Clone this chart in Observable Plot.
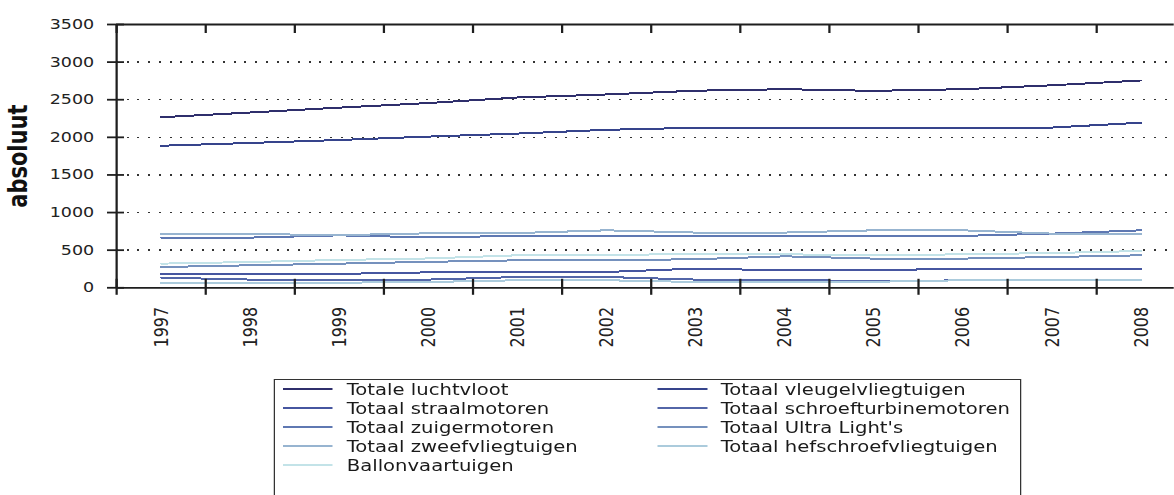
<!DOCTYPE html>
<html>
<head>
<meta charset="utf-8">
<script src="https://cdn.jsdelivr.net/npm/d3@7"></script>
<script src="https://cdn.jsdelivr.net/npm/@observablehq/plot@0.6"></script>
<style>
  html, body { margin: 0; padding: 0; background: #fff; overflow: hidden; }
  #wrap {
    position: absolute; left: 0; top: 0; width: 939.2px; height: 495px;
    transform: scaleX(1.25); transform-origin: 0 0;
    font-family: "DejaVu Sans", Verdana, sans-serif; color: #111;
  }
  #chart { position: absolute; left: 0; top: 0; }
  #legend {
    position: absolute; left: 219.2px; top: 379px; width: 598px; height: 130px;
    border: 1px solid #333; box-sizing: border-box; background: #fff;
  }
  .item { position: absolute; height: 19px; line-height: 19px; font-size: 15.7px; white-space: nowrap; color: #1a1a1a; }
  .swatch { position: absolute; top: 8.5px; height: 2px; width: 40px; }
  .lbl { position: absolute; top: 0; }
</style>
</head>
<body>
<div id="wrap"><div id="chart"></div><div id="legend"></div></div>
<script>
// ---- data ----
const years = [1997, 1998, 1999, 2000, 2001, 2002, 2003, 2004, 2005, 2006, 2007, 2008];

const seriesNames = [
  "Totale luchtvloot",
  "Totaal vleugelvliegtuigen",
  "Totaal straalmotoren",
  "Totaal schroefturbinemotoren",
  "Totaal zuigermotoren",
  "Totaal Ultra Light's",
  "Totaal zweefvliegtuigen",
  "Totaal hefschroefvliegtuigen",
  "Ballonvaartuigen"
];

const seriesColors = [
  "#2f2f6c", "#36448c", "#4656a0", "#5366a8", "#5f78b2",
  "#7591bd", "#97b4d0", "#abcbdc", "#c3e3e8"
];

const totaleLuchtvloot      = [2267, 2330, 2395, 2456, 2530, 2570, 2620, 2640, 2618, 2640, 2692, 2756];
const vleugelvliegtuigen    = [1888, 1925, 1965, 2010, 2050, 2100, 2127, 2127, 2127, 2127, 2130, 2195];
const straalmotoren         = [185, 185, 185, 205, 208, 210, 255, 232, 232, 255, 255, 255];
const schroefturbinemotoren = [135, 109, 109, 109, 143, 143, 109, 109, 85, 100, 100, 100];
const zuigermotoren         = [667, 667, 697, 670, 690, 690, 690, 690, 690, 690, 720, 764];
const ultraLights           = [276, 299, 321, 345, 365, 365, 380, 418, 388, 388, 409, 432];
const zweefvliegtuigen      = [715, 715, 700, 724, 728, 764, 734, 734, 764, 764, 720, 716];
const hefschroefvliegtuigen = [64, 64, 68, 77, 100, 100, 77, 77, 80, 100, 100, 100];
const ballonvaartuigen      = [321, 343, 370, 390, 432, 432, 454, 445, 432, 445, 462, 489];

const yTicks = [0, 500, 1000, 1500, 2000, 2500, 3000, 3500];
const gridTicks = [500, 1000, 1500, 2000, 2500, 3000];
const yLabel = "absoluut";

// ---- table built from the arrays ----
const seriesValues = [
  totaleLuchtvloot, vleugelvliegtuigen, straalmotoren, schroefturbinemotoren,
  zuigermotoren, ultraLights, zweefvliegtuigen, hefschroefvliegtuigen, ballonvaartuigen
];
const rows = [];
seriesNames.forEach((name, i) => {
  seriesValues[i].forEach((v, j) => rows.push({series: name, year: years[j], value: v}));
});
// category boundaries (tick marks sit between the years)
const yearEdges = years.map(y => y - 0.5);

const axisStroke = "#1e1e1e";
const W = 939.2, H = 370, ML = 92.8, MT = 24, MB = 82.7;
const frameW = W - ML, frameH = H - MT - MB;

const chart = Plot.plot({
  width: W,
  height: H,
  marginLeft: ML,
  marginRight: 0,
  marginTop: MT,
  marginBottom: MB,
  style: {fontFamily: '"DejaVu Sans", Verdana, sans-serif', color: "#222", background: "white", overflow: "hidden"},
  x: {type: "linear", domain: [years[0] - 0.5, years[years.length - 1] + 0.5], range: [ML, ML + 12 * 71.28], axis: null},
  y: {domain: [0, 3500], axis: null},
  color: {domain: seriesNames, range: seriesColors},
  marks: [
    // dotted grid
    Plot.ruleY(gridTicks, {stroke: "#333", strokeWidth: 1.5, strokeDasharray: "1.6 6.96", shapeRendering: "crispEdges"}),
    // data
    Plot.line(rows, {x: "year", y: "value", z: "series", stroke: "series", strokeWidth: 2, shapeRendering: "crispEdges"}),
    // frame lines
    Plot.ruleY([0, 3500], {stroke: axisStroke, strokeWidth: 1.8}),
    Plot.ruleX([yearEdges[0]], {stroke: axisStroke, strokeWidth: 1.8}),
    // y ticks crossing the axis
    Plot.ruleY(yTicks, {stroke: axisStroke, strokeWidth: 1.8, insetLeft: -7.2, insetRight: frameW - 6.4}),
    // x ticks: bottom (crossing) and top (inward)
    Plot.ruleX(yearEdges, {stroke: axisStroke, strokeWidth: 1.8, insetTop: frameH - 8.5, insetBottom: -7.5}),
    Plot.ruleX(yearEdges, {stroke: axisStroke, strokeWidth: 1.8, insetBottom: frameH - 9}),
    // y tick labels
    Plot.text(yTicks, {y: d => d, text: d => String(d), frameAnchor: "left", dx: -18, textAnchor: "end", lineAnchor: "middle", fontSize: 14, fill: "#222"}),
    // x tick labels (rotated)
    Plot.text(years, {x: d => d, text: d => String(d), frameAnchor: "bottom", dy: 19, rotate: -90, textAnchor: "end", lineAnchor: "middle", fontSize: 16, fill: "#222"}),
    // y axis title
    Plot.text([yLabel], {frameAnchor: "left", dx: -78.4, rotate: -90, textAnchor: "middle", lineAnchor: "middle", fontSize: 21, fontWeight: "bold", fill: "#111"})
  ]
});
document.getElementById("chart").appendChild(chart);

// ---- legend (two columns, line swatches) ----
const legend = document.getElementById("legend");
seriesNames.forEach((name, i) => {
  const row = Math.floor(i / 2), col = i % 2;
  const item = document.createElement("div");
  item.className = "item";
  item.style.top = (row * 19 - 0.5) + "px";
  item.style.left = (col ? 305.4 : 6.2) + "px";
  const sw = document.createElement("div");
  sw.className = "swatch";
  sw.style.left = "0px";
  sw.style.background = seriesColors[i];
  const lb = document.createElement("div");
  lb.className = "lbl";
  lb.style.left = "51px";
  lb.textContent = name;
  item.appendChild(sw);
  item.appendChild(lb);
  legend.appendChild(item);
});
</script>
</body>
</html>
